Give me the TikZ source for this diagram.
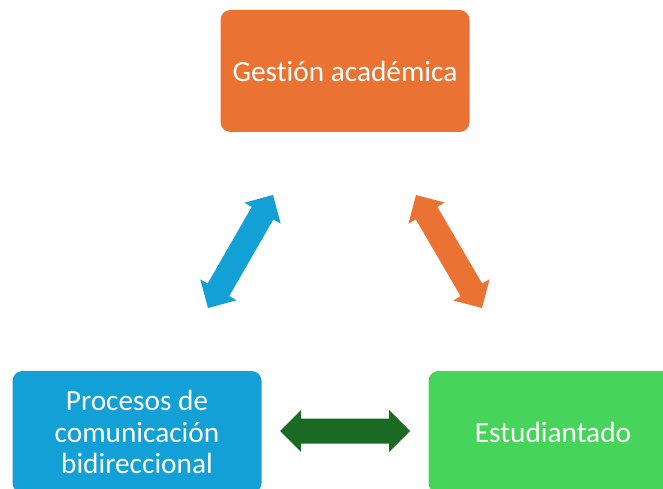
\documentclass[tikz,border=0pt]{standalone}
\usepackage{fontspec}
\setmainfont{Carlito}[Ligatures={NoCommon}]
\usetikzlibrary{calc}
\definecolor{boxorange}{HTML}{EA7334}
\definecolor{boxblue}{HTML}{12A0D7}
\definecolor{boxgreen}{HTML}{47D45A}
\definecolor{arrgreen}{HTML}{1B6A24}
\newcommand\hl{21pt}
\newcommand\hw{21pt}
\newcommand\sw{12.5pt}
\newcommand\dblarrow[3]{%
 \fill[#1] (#2)
  -- ($(#2)!\hl!(#3)!\hw!90:(#3)$)
  -- ($(#2)!\hl!(#3)!\sw!90:(#3)$)
  -- ($(#3)!\hl!(#2)!\sw!-90:(#2)$)
  -- ($(#3)!\hl!(#2)!\hw!-90:(#2)$)
  -- (#3)
  -- ($(#3)!\hl!(#2)!\hw!90:(#2)$)
  -- ($(#3)!\hl!(#2)!\sw!90:(#2)$)
  -- ($(#2)!\hl!(#3)!\sw!-90:(#3)$)
  -- ($(#2)!\hl!(#3)!\hw!-90:(#3)$)
  -- cycle;}
\tikzset{
  box/.style={rounded corners=10pt, minimum width=249pt, minimum height=122pt,
    text=white, align=center, inner sep=0pt,
    font=\fontsize{29.3}{31.5}\selectfont},
}
\begin{document}
\begin{tikzpicture}[x=1pt,y=-1pt]
\useasboundingbox (0,0) rectangle (663,489);
\clip (0,0) rectangle (663,489);
\node[box, fill=boxorange] (gest) at (345,71) {Gestión académica};
\node[box, fill=boxblue] (proc) at (137,432) {Procesos de\\comunicación\\bidireccional};
\node[box, fill=boxgreen] (estu) at (553,432) {Estudiantado};
\coordinate (b1) at (273,195);
\coordinate (b2) at (208,308);
\coordinate (o1) at (416,195);
\coordinate (o2) at (482,308);
\coordinate (g1) at (280,431);
\coordinate (g2) at (410,431);
\dblarrow{boxblue}{b1}{b2}
\dblarrow{boxorange}{o1}{o2}
\dblarrow{arrgreen}{g1}{g2}
\end{tikzpicture}
\end{document}
